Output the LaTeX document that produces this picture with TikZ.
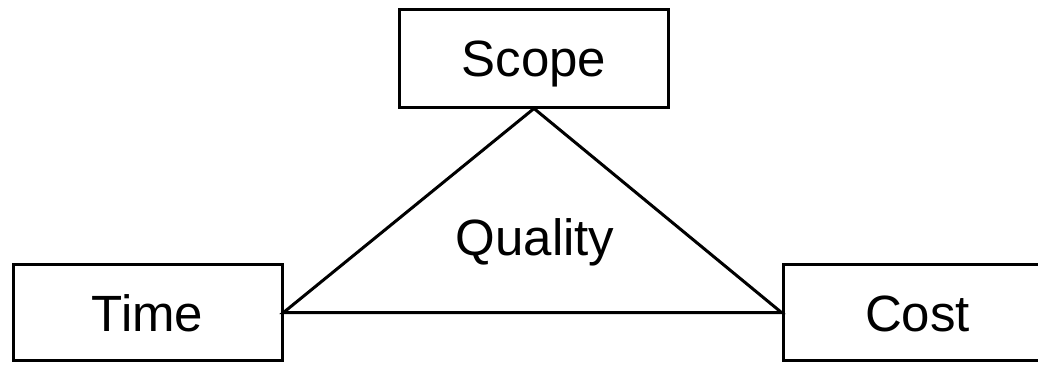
\documentclass[tikz,border=0pt]{standalone}
\usepackage{fontspec}
\setmainfont{Liberation Sans}
\begin{document}
\begin{tikzpicture}[x=1pt,y=-1pt,
  lbl/.style={font=\fontsize{51}{60}\selectfont, text height=37pt, text depth=0pt, inner sep=0pt},
  box/.style={lbl, draw=black, line width=3pt, minimum width=269pt, minimum height=96pt},
  edge/.style={draw=black, line width=3pt, line join=miter}]
\clip (0,0) rectangle (1038,364);
\fill[white] (0,0) rectangle (1038,364);
\node[box, minimum height=98pt] (scope) at (534,58) {Scope};
\node[box] (time) at (147.5,312.5) {Time};
\node[box] (cost) at (917.5,312.5) {Cost};
\node[lbl, anchor=base] (quality) at (535,255) {Quality};
\draw[edge] (scope.south) -- (time.east) -- (cost.west) -- cycle;
\end{tikzpicture}
\end{document}
